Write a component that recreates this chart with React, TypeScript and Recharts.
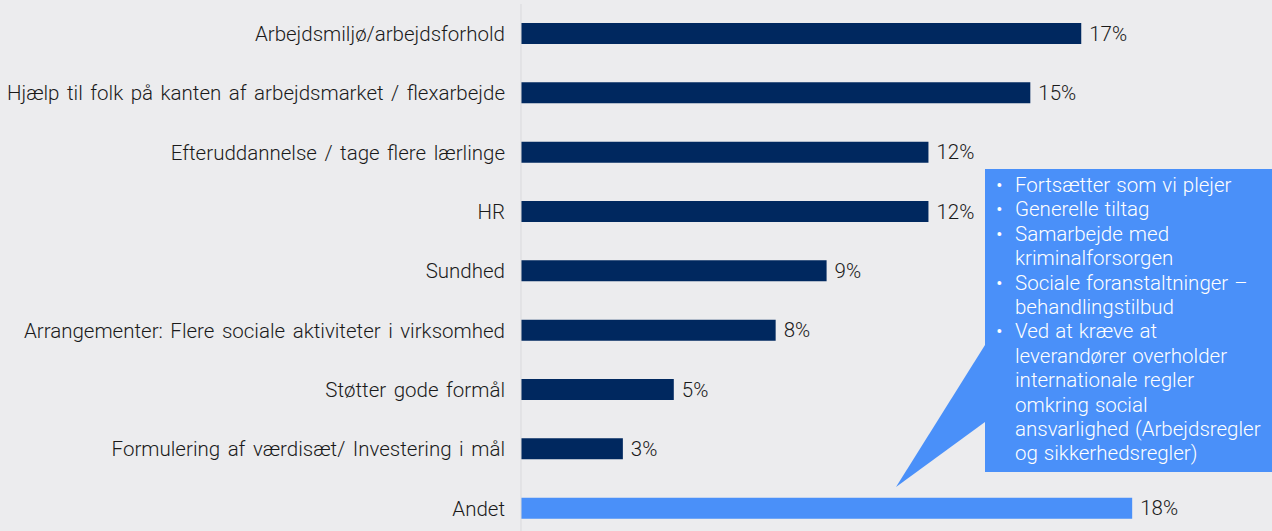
import { BarChart, Bar, XAxis, YAxis, Cell, LabelList } from "recharts";

const categories = [
  "Arbejdsmiljø/arbejdsforhold",
  "Hjælp til folk på kanten af arbejdsmarket / flexarbejde",
  "Efteruddannelse / tage flere lærlinge",
  "HR",
  "Sundhed",
  "Arrangementer: Flere sociale aktiviteter i virksomhed",
  "Støtter gode formål",
  "Formulering af værdisæt/ Investering i mål",
  "Andet",
];
const shares = [16.5, 15, 12, 12, 9, 7.5, 4.5, 3, 18];
const highlighted = ["Andet"];

const otherItems = [
  ["Fortsætter som vi plejer"],
  ["Generelle tiltag"],
  ["Samarbejde med", "kriminalforsorgen"],
  ["Sociale foranstaltninger –", "behandlingstilbud"],
  [
    "Ved at kræve at",
    "leverandører overholder",
    "internationale regler",
    "omkring social",
    "ansvarlighed (Arbejdsregler",
    "og sikkerhedsregler)",
  ],
];

const data = categories.map((name, i) => ({ name, share: shares[i] }));

const FONT = "Roboto, 'Noto Sans', sans-serif";
const DARK = "#00285f";
const LIGHT = "#4a90f9";
const textStyle = {
  fontSize: 20.5,
  fill: "#1a1a1a",
  fontFamily: FONT,
  fontWeight: 300,
  wordSpacing: "2.5px",
};

export default function App() {
  return (
    <div
      style={{
        position: "absolute",
        left: 0,
        top: 0,
        width: 1272,
        height: 531,
        overflow: "hidden",
        background: "#ececee",
        fontFamily: FONT,
      }}
    >
      <BarChart
        layout="vertical"
        width={1272}
        height={540}
        data={data}
        barSize={21}
        margin={{ top: 4, right: 4, bottom: 2, left: 0 }}
      >
        <XAxis type="number" domain={[0, 22]} hide />
        <YAxis
          type="category"
          dataKey="name"
          width={521}
          tickSize={0}
          tickMargin={16}
          tickLine={false}
          axisLine={{ stroke: "#d9d9dc" }}
          tick={textStyle}
          interval={0}
        />
        <Bar dataKey="share" isAnimationActive={false}>
          {data.map((d) => (
            <Cell key={d.name} fill={highlighted.includes(d.name) ? LIGHT : DARK} />
          ))}
          <LabelList
            dataKey="share"
            position="right"
            offset={8}
            formatter={(v: number) => `${Math.round(v)}%`}
            style={textStyle}
          />
        </Bar>
      </BarChart>

      <svg
        width={1272}
        height={531}
        style={{ position: "absolute", left: 0, top: 0, pointerEvents: "none" }}
      >
        <polygon points="985,345 896,487 985,422" fill={LIGHT} />
        <rect x={985} y={169} width={287} height={303} fill={LIGHT} />
      </svg>
      <div
        style={{
          position: "absolute",
          left: 992,
          top: 173,
          width: 280,
          color: "#ffffff",
          fontSize: 20.5,
          fontWeight: 300,
          wordSpacing: "1px",
          lineHeight: "24.4px",
        }}
      >
        {otherItems.map((lines, i) => (
          <div key={i} style={{ position: "relative", paddingLeft: 23 }}>
            <span style={{ position: "absolute", left: 4 }}>•</span>
            {lines.map((l, j) => (
              <div key={j} style={{ whiteSpace: "nowrap" }}>
                {l}
              </div>
            ))}
          </div>
        ))}
      </div>
    </div>
  );
}
